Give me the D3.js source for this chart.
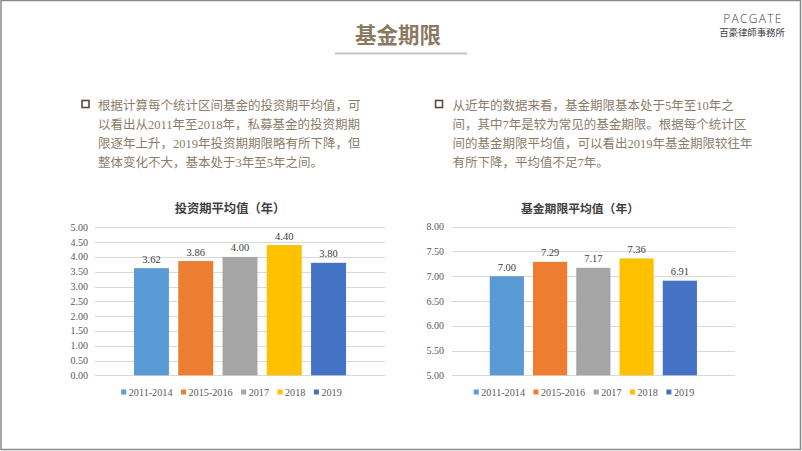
<!DOCTYPE html>
<html><head><meta charset="utf-8">
<script src="https://cdn.jsdelivr.net/npm/d3@7"></script>
<style>
html,body{margin:0;padding:0;background:#fff;}
svg{display:block;}
</style></head>
<body>
<svg id="c" width="802" height="451"></svg>
<script>
// ---- data ----
const series = ["2011-2014", "2015-2016", "2017", "2018", "2019"];
const colors = ["#5B9BD5", "#ED7D31", "#A5A5A5", "#FFC000", "#4472C4"];
const investValues = [3.62, 3.86, 4.00, 4.40, 3.80];
const termValues = [7.00, 7.29, 7.17, 7.36, 6.91];
const investTicks = [0, 0.5, 1, 1.5, 2, 2.5, 3, 3.5, 4, 4.5, 5];
const termTicks = [5, 5.5, 6, 6.5, 7, 7.5, 8];
const pageTitle = "基金期限";
const leftTitle = "投资期平均值（年）";
const rightTitle = "基金期限平均值（年）";
const leftText = [
  "根据计算每个统计区间基金的投资期平均值，可",
  "以看出从2011年至2018年，私募基金的投资期期",
  "限逐年上升，2019年投资期期限略有所下降，但",
  "整体变化不大，基本处于3年至5年之间。"
];
const rightText = [
  "从近年的数据来看，基金期限基本处于5年至10年之",
  "间，其中7年是较为常见的基金期限。根据每个统计区",
  "间的基金期限平均值，可以看出2019年基金期限较往年",
  "有所下降，平均值不足7年。"
];

const svg = d3.select("#c");
const serif = "'Liberation Serif','Times New Roman','Noto Sans CJK SC',serif";
const cjk = "'Noto Sans CJK SC','Noto Sans',sans-serif";

// border
svg.append("rect").attr("x", 1).attr("y", 0.5).attr("width", 799.5).attr("height", 449)
  .attr("fill", "none").attr("stroke", "#8a8a8a").attr("stroke-width", 1.5);

// page title
svg.append("text").attr("x", 398).attr("y", 43).attr("text-anchor", "middle")
  .attr("font-family", cjk).attr("font-weight", "bold").attr("font-size", 21.5)
  .attr("fill", "#8b7960").text(pageTitle);
svg.append("rect").attr("x", 335).attr("y", 52.5).attr("width", 132).attr("height", 2)
  .attr("fill", "#c4c4c4");

// logo
svg.append("text").attr("x", 753).attr("y", 22.5).attr("text-anchor", "middle")
  .attr("font-family", "'Open Sans','DejaVu Sans',sans-serif").attr("font-weight", 300)
  .attr("font-size", 12).attr("letter-spacing", 1.3).attr("fill", "#3c3c48").text("PACGATE");
svg.append("text").attr("x", 752).attr("y", 36).attr("text-anchor", "middle")
  .attr("font-family", cjk).attr("font-size", 9.4).attr("fill", "#3c3c48").text("百豪律師事務所");

// bullet paragraphs
function para(x0, bx, lines) {
  svg.append("rect").attr("x", bx).attr("y", 100.5).attr("width", 7).attr("height", 7)
    .attr("fill", "none").attr("stroke", "#5a4a3a").attr("stroke-width", 1.6);
  const t = svg.append("text").attr("font-family", serif).attr("font-size", 12.5).attr("fill", "#8c7b69");
  lines.forEach((l, i) => {
    t.append("tspan").attr("x", x0).attr("y", 110 + i * 19).text(l);
  });
}
para(98, 82, leftText);
para(452.5, 435.5, rightText);

// charts
function chart(cfg) {
  const g = svg.append("g");
  const y = d3.scaleLinear().domain(cfg.domain).range([375.3, cfg.top]);
  const x = d3.scaleBand().domain(series).range([cfg.x0, cfg.x1]).paddingInner(0.21).paddingOuter(0.88);
  // gridlines
  g.selectAll(".grid").data(cfg.ticks).enter().append("line")
    .attr("x1", cfg.x0).attr("x2", cfg.x1)
    .attr("y1", d => Math.round(y(d)) + 0.5).attr("y2", d => Math.round(y(d)) + 0.5)
    .attr("stroke", "#d9d9d9").attr("stroke-width", 1);
  // y labels
  g.selectAll(".yl").data(cfg.ticks).enter().append("text")
    .attr("x", cfg.labelX).attr("y", d => y(d) + 3.5).attr("text-anchor", "end")
    .attr("font-family", serif).attr("font-size", 10).attr("fill", "#595959")
    .text(d => d3.format(".2f")(d));
  // bars
  g.selectAll(".bar").data(cfg.values).enter().append("rect")
    .attr("x", (d, i) => x(series[i])).attr("width", x.bandwidth())
    .attr("y", d => y(d)).attr("height", d => y(cfg.domain[0]) - y(d))
    .attr("fill", (d, i) => colors[i]);
  // data labels
  g.selectAll(".dl").data(cfg.values).enter().append("text")
    .attr("x", (d, i) => x(series[i]) + x.bandwidth() / 2).attr("y", d => y(d) - 5.5)
    .attr("text-anchor", "middle").attr("font-family", serif).attr("font-size", 10.5)
    .attr("fill", "#404040").text(d => d3.format(".2f")(d));
  // title
  g.append("text").attr("x", cfg.titleX).attr("y", 213).attr("text-anchor", "middle")
    .attr("font-family", cjk).attr("font-weight", "bold").attr("font-size", cfg.titleSize)
    .attr("fill", "#404040").text(cfg.title);
  // legend
  const lg = g.append("g");
  let cx = 0;
  series.forEach((s, i) => {
    lg.append("rect").attr("x", cx).attr("y", 389.5).attr("width", 5).attr("height", 5).attr("fill", colors[i]);
    const t = lg.append("text").attr("x", cx + 7.5).attr("y", 395.5)
      .attr("font-family", serif).attr("font-size", 10.2).attr("fill", "#595959").text(s);
    const w = t.node().getComputedTextLength();
    cx += 7.5 + w + 8.5;
  });
  const total = cx - 8.5;
  lg.attr("transform", `translate(${cfg.legendCenter - total / 2},0)`);
}

chart({domain: [0, 5], ticks: investTicks, values: investValues, top: 227.3,
  x0: 95, x1: 385, labelX: 88, title: leftTitle, titleX: 230, titleSize: 12.3, legendCenter: 231.5});
chart({domain: [5, 8], ticks: termTicks, values: termValues, top: 226.7,
  x0: 451.7, x1: 735, labelX: 444, title: rightTitle, titleX: 580, titleSize: 11.8, legendCenter: 584});
</script>
</body></html>
